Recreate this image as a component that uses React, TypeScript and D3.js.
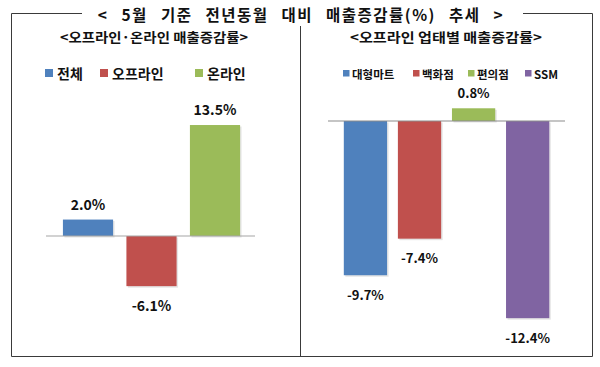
import React from "react";
import * as d3 from "d3";

const TITLE = "< 5월 기준 전년동월 대비 매출증감률(%) 추세 >";
const SUB_LEFT = "<오프라인·온라인 매출증감률>";
const SUB_RIGHT = "<오프라인 업태별 매출증감률>";

const leftCats = ["전체", "오프라인", "온라인"];
const leftValues = [2.0, -6.1, 13.5];
const leftColors = ["#4F81BD", "#C0504D", "#9BBB59"];

const rightCats = ["대형마트", "백화점", "편의점", "SSM"];
const rightValues = [-9.7, -7.4, 0.8, -12.4];
const rightColors = ["#4F81BD", "#C0504D", "#9BBB59", "#8064A2"];

const FONT = "'Noto Sans CJK KR', 'Noto Sans', sans-serif";

export default function App() {
  const W = 600, H = 367;

  const xL = d3.scaleBand<string>().domain(leftCats).range([56.25, 246.75]).paddingInner(0.21).paddingOuter(0.105);
  const yL = d3.scaleLinear().domain([-10, 15]).range([318.2, 112.7]);

  const xR = d3.scaleBand<string>().domain(rightCats).range([338.4, 554.7]).paddingInner(0.2).paddingOuter(0.1);
  const yR = d3.scaleLinear().domain([-14, 2]).range([343.6, 89.2]);

  const fmt = (v: number) => `${v.toFixed(1)}%`;

  const renderBars = (
    cats: string[], vals: number[], colors: string[],
    x: d3.ScaleBand<string>, y: d3.ScaleLinear<number, number>, fs: number
  ) => cats.map((c, i) => {
    const v = vals[i];
    const x0 = x(c)!;
    const bw = x.bandwidth();
    const top = Math.min(y(v), y(0));
    const h = Math.abs(y(v) - y(0));
    const ly = v >= 0 ? y(v) - 16 : y(v) + 19;
    return (
      <g key={c}>
        <rect x={x0 + 1.5} y={top + 1.5} width={bw} height={h} fill="#d8d8d8" opacity={0.7} />
        <rect x={x0} y={top} width={bw} height={h} fill={colors[i]} />
        <text x={x0 + bw / 2} y={ly} textAnchor="middle" dominantBaseline="central"
          fontSize={fs} fontWeight={700} fill="#111" fontFamily={FONT}>{fmt(v)}</text>
      </g>
    );
  });

  const leftLegendX = [45, 100, 195];
  const rightLegendX = [343, 413, 468, 525];

  return (
    <svg width={W} height={H} style={{ position: "absolute", left: 0, top: 0, background: "#fff" }}>
      {/* frame */}
      <g stroke="#3a3a3a" strokeWidth={1} fill="none">
        <polyline points="82,13.5 11.5,13.5 11.5,356.5 592.5,356.5 592.5,13.5 523,13.5" />
        <line x1={300.5} y1={26} x2={300.5} y2={356.5} />
      </g>
      <text x={301} y={14} textAnchor="middle" dominantBaseline="central" fontSize={15.5}
        fontWeight={700} fill="#111" fontFamily={FONT} letterSpacing={1.5} wordSpacing={8}>{TITLE}</text>
      <text x={154} y={36} textAnchor="middle" dominantBaseline="central" fontSize={13}
        fontWeight={700} fill="#111" fontFamily={FONT} textLength={188} lengthAdjust="spacingAndGlyphs">{SUB_LEFT}</text>
      <text x={446} y={36} textAnchor="middle" dominantBaseline="central" fontSize={13}
        fontWeight={700} fill="#111" fontFamily={FONT} textLength={192} lengthAdjust="spacingAndGlyphs">{SUB_RIGHT}</text>

      {/* left legend */}
      {leftCats.map((c, i) => (
        <g key={c}>
          <rect x={leftLegendX[i]} y={69} width={8} height={8} fill={leftColors[i]} />
          <text x={leftLegendX[i] + 12} y={73} dominantBaseline="central" fontSize={14}
            fontWeight={700} fill="#111" fontFamily={FONT}>{c}</text>
        </g>
      ))}
      {/* right legend */}
      {rightCats.map((c, i) => (
        <g key={c}>
          <rect x={rightLegendX[i]} y={70} width={6.5} height={6.5} fill={rightColors[i]} />
          <text x={rightLegendX[i] + 9} y={73.5} dominantBaseline="central" fontSize={11.5}
            fontWeight={700} fill="#111" fontFamily={FONT}>{c}</text>
        </g>
      ))}

      {renderBars(leftCats, leftValues, leftColors, xL, yL, 14)}
      <line x1={46} x2={255} y1={yL(0)} y2={yL(0)} stroke="#a6a6a6" strokeWidth={1.2} />

      {renderBars(rightCats, rightValues, rightColors, xR, yR, 13)}
      <line x1={328} x2={565} y1={yR(0)} y2={yR(0)} stroke="#8c8c8c" strokeWidth={1.2} />
    </svg>
  );
}
